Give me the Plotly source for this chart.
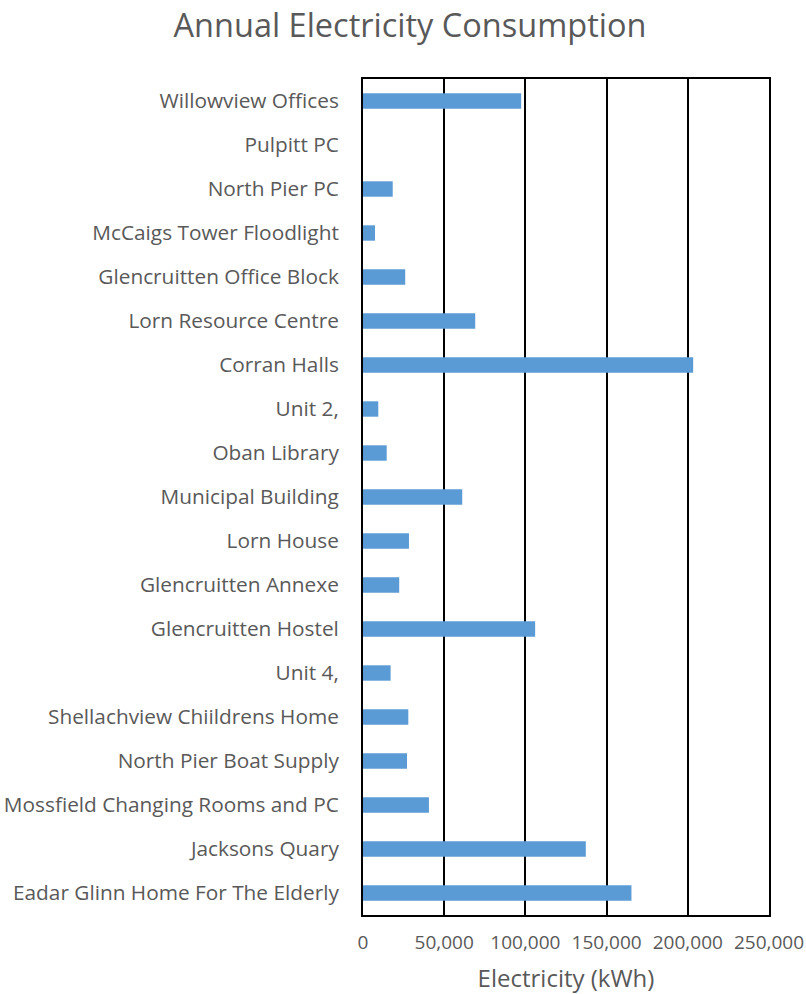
import plotly.graph_objects as go

categories = [
    "Eadar Glinn Home For The Elderly",
    "Jacksons Quary",
    "Mossfield Changing Rooms and PC",
    "North Pier Boat Supply",
    "Shellachview Chiildrens Home",
    "Unit 4,",
    "Glencruitten Hostel",
    "Glencruitten Annexe",
    "Lorn House",
    "Municipal Building",
    "Oban Library",
    "Unit 2,",
    "Corran Halls",
    "Lorn Resource Centre",
    "Glencruitten Office Block",
    "McCaigs Tower Floodlight",
    "North Pier PC",
    "Pulpitt PC",
    "Willowview Offices",
]
electricity_kwh = [
    165300, 137200, 40600, 27100, 27900, 17000, 106000, 22300, 28300,
    61100, 14600, 9400, 203300, 69100, 26000, 7400, 18300, 0, 97400,
]
x_ticks = [0, 50000, 100000, 150000, 200000, 250000]

font_family = "Open Sans, DejaVu Sans, sans-serif"
text_color = "#595959"

W, H = 806, 994

fig = go.Figure(
    go.Bar(
        y=categories,
        x=electricity_kwh,
        orientation="h",
        marker=dict(color="#5B9BD5", line=dict(width=0)),
        width=0.35,
    )
)

fig.update_layout(
    width=W,
    height=H,
    paper_bgcolor="white",
    plot_bgcolor="white",
    margin=dict(l=363, r=37, t=79, b=79, autoexpand=False),
    showlegend=False,
    title=dict(
        text="Annual Electricity Consumption",
        x=410 / W,
        xanchor="center",
        y=1 - 26 / H,
        yanchor="middle",
        font=dict(family=font_family, size=32.5, color=text_color),
    ),
    font=dict(family=font_family, size=18, color=text_color),
)

fig.update_xaxes(
    range=[0, 250000],
    tickvals=x_ticks,
    tickformat=",d",
    showgrid=True,
    gridcolor="black",
    gridwidth=2,
    showline=True,
    linecolor="black",
    linewidth=2,
    mirror=True,
    zeroline=False,
    ticks="",
    ticklabelstandoff=9,
    ticklabeloverflow="allow",
    tickfont=dict(size=19, color=text_color),
    title=dict(text="Electricity (kWh)", font=dict(size=24, color=text_color), standoff=19),
)

fig.update_yaxes(
    categoryorder="array",
    categoryarray=categories,
    showgrid=False,
    showline=True,
    linecolor="black",
    linewidth=2,
    mirror=True,
    zeroline=False,
    ticks="",
    ticklabelstandoff=18,
    ticklabeloverflow="allow",
    tickfont=dict(size=20.8, color=text_color),
)

fig.write_html(
    "out.html",
    config={"displayModeBar": False},
    post_script="document.body.style.margin='0';document.body.style.overflow='hidden';",
)
